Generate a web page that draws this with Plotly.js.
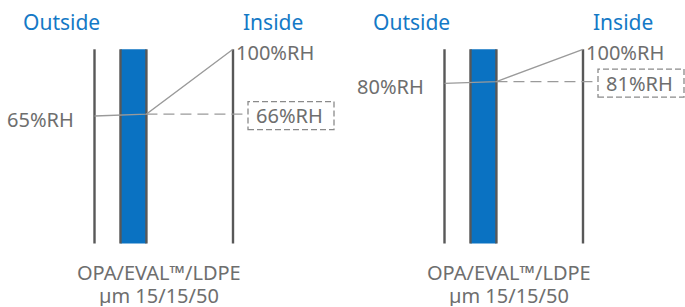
<!DOCTYPE html>
<html>
<head>
<meta charset="utf-8">
<script src="https://cdn.plot.ly/plotly-3.0.1.min.js"></script>
<style>html,body{margin:0;padding:0;background:#fff;}#chart{width:685px;height:307px;}</style>
</head>
<body>
<div id="chart"></div>
<script>
// ---- data ----
const layerNames = ['OPA', 'EVAL™', 'LDPE'];
const layerThickness = [15, 15, 50];          // µm
const barrierLayer = 'EVAL™';
const outsideRH = [65, 80];                   // % RH outside
const interfaceRH = [66, 81];                 // % RH after barrier layer
const insideRH = [100, 100];                  // % RH inside
const sideTitles = ['Outside', 'Inside'];

// ---- layout constants ----
const W = 685, H = 307;
const FONT = 'Noto Sans';
const BLUE = '#0a72c2', TITLE_BLUE = '#1479c6', WALL = '#585858', LINE = '#9a9a9a', TEXT = '#6e6e6e';
const pxPerUm = 138.5 / 80;
const wallLeftPx = [94.5, 444.5];
const domains = [[0, 0.5], [0.5, 1]];
const yMap = [{top: 49.3, ref: 116, refVal: outsideRH[0]}, {top: 49.3, ref: 83.3, refVal: outsideRH[1]}];
const wallTopPx = 49.3, wallBottomPx = 243.5;

// cumulative layer boundaries
const bounds = [0];
layerThickness.forEach(t => bounds.push(bounds[bounds.length - 1] + t));
const total = bounds[bounds.length - 1];
const barIdx = layerNames.indexOf(barrierLayer);

const traces = [], shapes = [], annotations = [];
const layout = {
  width: W, height: H, margin: {l: 0, r: 0, t: 0, b: 0},
  paper_bgcolor: '#fff', plot_bgcolor: 'rgba(0,0,0,0)', showlegend: false,
  font: {family: FONT, color: TEXT, size: 20}
};
const pyToPaper = py => (H - py) / H;

outsideRH.forEach((outV, i) => {
  const xs = i === 0 ? '' : '2';
  const xa = 'x' + xs, ya = 'y' + xs;
  const d = domains[i];
  const left = d[0] * W, right = d[1] * W;
  layout['xaxis' + xs] = {domain: d, range: [-(wallLeftPx[i] - left) / pxPerUm, (right - wallLeftPx[i]) / pxPerUm], visible: false, fixedrange: true};
  const m = yMap[i];
  const b = (m.ref - m.top) / (100 - m.refVal);
  const a = m.top + 100 * b;
  layout['yaxis' + xs] = {domain: [0, 1], range: [(a - H) / b, a / b], visible: false, fixedrange: true};
  if (i > 0) { layout['xaxis' + xs].anchor = ya; layout['yaxis' + xs].anchor = xa; }

  const y0p = pyToPaper(wallBottomPx), y1p = pyToPaper(wallTopPx);
  // barrier layer fill
  shapes.push({type: 'rect', xref: xa, yref: 'paper', x0: bounds[barIdx], x1: bounds[barIdx + 1], y0: y0p, y1: y1p,
    fillcolor: BLUE, line: {width: 0}, layer: 'below'});
  // walls and layer boundaries
  bounds.forEach((bx, k) => {
    shapes.push({type: 'line', xref: xa, yref: 'paper', x0: bx, x1: bx, y0: y0p, y1: y1p,
      line: {color: WALL, width: 2.4}, layer: 'below'});
  });
  // RH profile
  const xBarEnd = bounds[barIdx + 1];
  traces.push({type: 'scatter', mode: 'lines', xaxis: xa, yaxis: ya,
    x: [0, xBarEnd, total], y: [outV, interfaceRH[i], insideRH[i]],
    line: {color: LINE, width: 1.3}, hoverinfo: 'skip'});
  // dashed continuation to the label box
  const boxOffPx = 15, boxWPx = 86;
  traces.push({type: 'scatter', mode: 'lines', xaxis: xa, yaxis: ya,
    x: [xBarEnd, total + boxOffPx / pxPerUm], y: [interfaceRH[i], interfaceRH[i]],
    line: {color: LINE, width: 1.3, dash: '11px,6px'}, hoverinfo: 'skip'});
  // dashed box
  shapes.push({type: 'rect', xref: xa, yref: ya, xsizemode: 'pixel', ysizemode: 'pixel',
    xanchor: total, yanchor: interfaceRH[i], x0: boxOffPx, x1: boxOffPx + boxWPx, y0: -15.5, y1: 12.5,
    line: {color: '#8a8a8a', width: 1.3, dash: '6px,3px'}, fillcolor: 'rgba(0,0,0,0)'});
  annotations.push({xref: xa, yref: ya, x: total, y: interfaceRH[i], text: interfaceRH[i] + '%RH',
    showarrow: false, xanchor: 'center', yanchor: 'middle', xshift: boxOffPx + boxWPx / 2 - 2, yshift: -1.5});
  // end labels
  annotations.push({xref: xa, yref: ya, x: 0, y: outV, text: outV + '%RH', showarrow: false,
    xanchor: 'right', yanchor: 'middle', xshift: -19, yshift: -3});
  annotations.push({xref: xa, yref: ya, x: total, y: insideRH[i], text: insideRH[i] + '%RH', showarrow: false,
    xanchor: 'left', yanchor: 'middle', xshift: 1, yshift: -3});
  // side titles
  annotations.push({xref: xa, yref: 'paper', x: 0, y: pyToPaper(22), text: sideTitles[0], showarrow: false,
    xanchor: 'right', yanchor: 'middle', xshift: 7, font: {color: TITLE_BLUE, size: 21}});
  annotations.push({xref: xa, yref: 'paper', x: total, y: pyToPaper(22), text: sideTitles[1], showarrow: false,
    xanchor: 'left', yanchor: 'middle', xshift: 8, font: {color: TITLE_BLUE, size: 21}});
  // structure label (two lines)
  annotations.push({xref: xa, yref: 'paper', x: total / 2, y: pyToPaper(272.5), text: layerNames.join('/'),
    showarrow: false, xanchor: 'center', yanchor: 'middle', height: 21, borderpad: 0, valign: 'middle', xshift: -5, font: {size: 20}});
  annotations.push({xref: xa, yref: 'paper', x: total / 2, y: pyToPaper(295), text: 'µm ' + layerThickness.join('/'),
    showarrow: false, xanchor: 'center', yanchor: 'middle', height: 21, borderpad: 0, valign: 'middle', xshift: -5, font: {size: 20}});
});

layout.shapes = shapes;
layout.annotations = annotations;
Plotly.newPlot('chart', traces, layout, {staticPlot: true, displayModeBar: false});
</script>
</body>
</html>
